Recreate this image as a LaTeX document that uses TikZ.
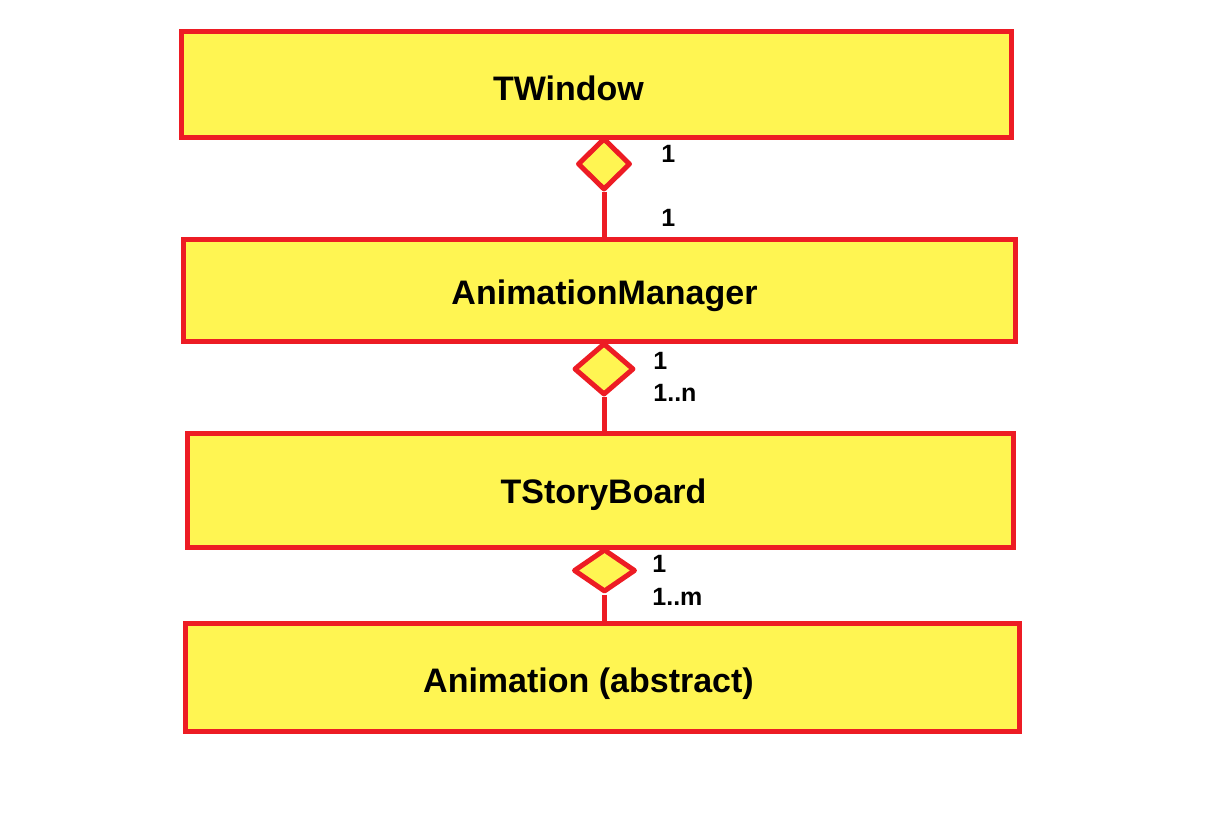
\documentclass[tikz,border=0pt]{standalone}
\usepackage{fontspec}
\setmainfont{Liberation Sans}
\usetikzlibrary{shapes.geometric}
\definecolor{boxfill}{RGB}{255,245,82}
\definecolor{boxline}{RGB}{237,28,36}
\begin{document}
\begin{tikzpicture}[x=0.5pt,y=-0.5pt,
  classbox/.style={rectangle,draw=boxline,fill=boxfill,line width=2.5pt,inner sep=0pt},
  agg/.style={diamond,draw=boxline,fill=boxfill,line width=2.5pt,line join=round,inner sep=0pt},
  classname/.style={font=\fontsize{17}{20}\selectfont\bfseries,inner sep=0pt,anchor=base},
  mult/.style={font=\fontsize{12.5}{15}\selectfont\bfseries,inner sep=0pt,anchor=base west},
  link/.style={draw=boxline,line width=2.5pt}]
\useasboundingbox (0,0) rectangle (1232,828);

% class boxes
\node[classbox,minimum width=415pt,minimum height=53pt] (win) at (596.5,84.5) {};
\node[classbox,minimum width=416pt,minimum height=51pt] (mgr) at (599.5,290.5) {};
\node[classbox,minimum width=413pt,minimum height=57pt] (sb)  at (600.5,490.5) {};
\node[classbox,minimum width=417pt,minimum height=54pt] (anim) at (602.5,677.5) {};

\node[classname] (winT)  at (568.5,101) {TWindow};
\node[classname] (mgrT)  at (604.5,305) {AnimationManager};
\node[classname] (sbT)   at (603.5,504) {TStoryBoard};
\node[classname] (animT) at (588.5,692) {Animation (abstract)};

% aggregation diamonds
\node[agg,minimum width=26.5pt,minimum height=26pt] (d1) at (604,164) {};
\node[agg,minimum width=30pt,minimum height=26pt] (d2) at (604,369) {};
\node[agg,minimum width=31pt,minimum height=21.5pt] (d3) at (604.5,570.5) {};

% connectors
\draw[link] (d1.south) -- (d1.south |- mgr.north);
\draw[link] (d2.south) -- (d2.south |- sb.north);
\draw[link] (d3.south) -- (d3.south |- anim.north);

% multiplicities
\node[mult] (m1a) at (661,163) {1};
\node[mult] (m1b) at (661,227) {1};
\node[mult] (m2a) at (653,370) {1};
\node[mult] (m2b) at (653,402) {1..n};
\node[mult] (m3a) at (652,573) {1};
\node[mult] (m3b) at (652,605) {1..m};
\end{tikzpicture}
\end{document}
